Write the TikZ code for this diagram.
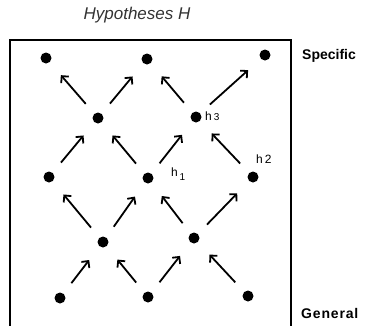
\documentclass[tikz,border=0pt]{standalone}
\usepackage{fontspec}
\setmainfont{Liberation Sans}
\usetikzlibrary{arrows.meta}
\begin{document}
\begin{tikzpicture}[x=1pt,y=-1pt,
  dot/.style={circle,fill=black,inner sep=0pt,minimum size=11pt},
  edge/.style={line width=1.8pt,-{Straight Barb[length=5pt,width=10pt,line width=1.8pt]},shorten <=13pt,shorten >=17pt},
  hlab/.style={font=\fontsize{12}{13}\selectfont,inner sep=0pt,anchor=west},
  side/.style={font=\bfseries\fontsize{14}{15}\selectfont,inner sep=0pt,anchor=west}]
\useasboundingbox (0,0) rectangle (365,325);
\draw[line width=1.6pt] (10,330) -- (10,40) -- (291,40) -- (291,330);
\node[font=\itshape\fontsize{17}{18}\selectfont,text=black!80] (title) at (137,15) {Hypotheses H};
\node[side] (spec) at (302,56) {Specific};
\node[side] (gen) at (301,313) {\addfontfeature{LetterSpace=6}General};
% row 1
\node[dot] (a1) at (46,58) {};
\node[dot] (a2) at (147,59) {};
\node[dot] (a3) at (265,55) {};
% row 2
\node[dot] (b1) at (98,118) {};
\node[dot] (b2) at (196,117) {};
% row 3
\node[dot] (c1) at (49,177) {};
\node[dot] (c2) at (148,178) {};
\node[dot] (c3) at (253,177) {};
% row 4
\node[dot] (d1) at (103,242) {};
\node[dot] (d2) at (194,238) {};
% row 5
\node[dot] (e1) at (60,298) {};
\node[dot] (e2) at (148,297) {};
\node[dot] (e3) at (248,296) {};
% labels
\node[hlab] (h3) at (205,116) {h\,{\fontsize{10}{11}\selectfont 3}};
\node[hlab] (h1) at (171,174) {h\raisebox{-3.5pt}{\fontsize{10}{11}\selectfont\,1}};
\node[hlab] (h2) at (256,159) {h\,2};
% edges
\draw[edge] (e1) -- (d1);
\draw[edge] (e2) -- (d1);
\draw[edge] (e2) -- (d2);
\draw[edge] (e3) -- (d2);
\draw[edge] (d1) -- (c1);
\draw[edge] (d1) -- (c2);
\draw[edge] (d2) -- (c2);
\draw[edge] (d2) -- (c3);
\draw[edge] (c1) -- (b1);
\draw[edge] (c2) -- (b1);
\draw[edge] (c2) -- (b2);
\draw[edge] (c3) -- (b2);
\draw[edge] (b1) -- (a1);
\draw[edge] (b1) -- (a2);
\draw[edge] (b2) -- (a2);
\draw[edge] (b2) -- (a3);
\end{tikzpicture}
\end{document}
